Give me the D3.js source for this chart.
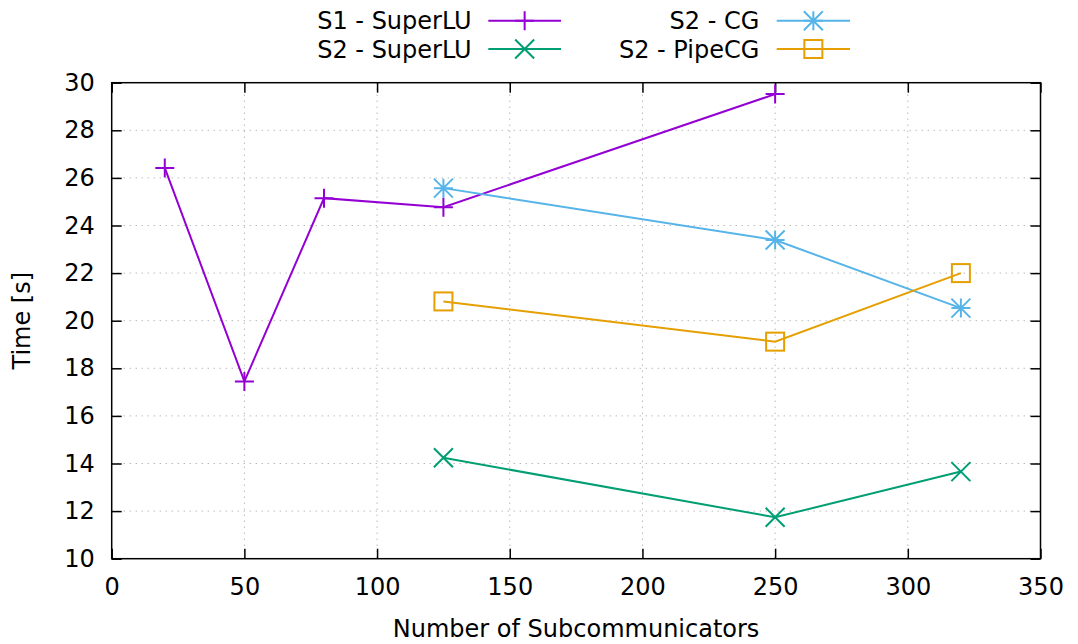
<!DOCTYPE html>
<html>
<head>
<meta charset="utf-8">
<script src="https://cdn.jsdelivr.net/npm/d3@7"></script>
<style>
  html, body { margin: 0; padding: 0; background: #fff; }
  svg { display: block; font-family: "DejaVu Sans", sans-serif; }
</style>
</head>
<body>
<svg id="chart" width="1078" height="644"></svg>
<script>
// ---- data ----
const s1SuperLU_x = [20, 50, 80, 125, 250];
const s1SuperLU_y = [26.42, 17.45, 25.15, 24.77, 29.52];
const s2SuperLU_x = [125, 250, 320];
const s2SuperLU_y = [14.24, 11.74, 13.66];
const s2CG_x = [125, 250, 320];
const s2CG_y = [25.57, 23.39, 20.53];
const s2PipeCG_x = [125, 250, 320];
const s2PipeCG_y = [20.81, 19.12, 22.0];

const seriesNames = ["S1 - SuperLU", "S2 - SuperLU", "S2 - CG", "S2 - PipeCG"];
const xTicks = [0, 50, 100, 150, 200, 250, 300, 350];
const yTicks = [10, 12, 14, 16, 18, 20, 22, 24, 26, 28, 30];
const xLabel = "Number of Subcommunicators";
const yLabel = "Time [s]";

const series = [
  { name: seriesNames[0], xs: s1SuperLU_x, ys: s1SuperLU_y, color: "#9400d3", marker: "plus" },
  { name: seriesNames[1], xs: s2SuperLU_x, ys: s2SuperLU_y, color: "#009e73", marker: "cross" },
  { name: seriesNames[2], xs: s2CG_x, ys: s2CG_y, color: "#56b4e9", marker: "star" },
  { name: seriesNames[3], xs: s2PipeCG_x, ys: s2PipeCG_y, color: "#e69f00", marker: "square" }
];

// ---- layout ----
const L = 111.7, R = 1040.5, T = 82.7, B = 558.7;
const svg = d3.select("#chart");
const x = d3.scaleLinear().domain([0, 350]).range([L, R]);
const y = d3.scaleLinear().domain([10, 30]).range([B, T]);

const fontSize = 24;

// grid
const grid = svg.append("g");
grid.selectAll("line.gx").data(xTicks.slice(1, -1)).join("line")
  .attr("x1", d => x(d)).attr("x2", d => x(d)).attr("y1", T).attr("y2", B)
  .attr("stroke", "#999").attr("stroke-width", 1).attr("stroke-dasharray", "1,5");
grid.selectAll("line.gy").data(yTicks.slice(1, -1)).join("line")
  .attr("x1", L).attr("x2", R).attr("y1", d => y(d)).attr("y2", d => y(d))
  .attr("stroke", "#999").attr("stroke-width", 1).attr("stroke-dasharray", "1,5");

// axes with mirrored ticks (inward)
const tickLen = 10;
const axB = svg.append("g").attr("transform", `translate(0,${B})`)
  .call(d3.axisBottom(x).tickValues(xTicks).tickSizeInner(-tickLen).tickSizeOuter(0).tickPadding(19).tickFormat(d3.format("d")));
const axT = svg.append("g").attr("transform", `translate(0,${T})`)
  .call(d3.axisTop(x).tickValues(xTicks).tickSizeInner(-tickLen).tickSizeOuter(0).tickFormat(""));
const axL = svg.append("g").attr("transform", `translate(${L},0)`)
  .call(d3.axisLeft(y).tickValues(yTicks).tickSizeInner(-tickLen).tickSizeOuter(0).tickPadding(17).tickFormat(d3.format("d")));
const axR = svg.append("g").attr("transform", `translate(${R},0)`)
  .call(d3.axisRight(y).tickValues(yTicks).tickSizeInner(-tickLen).tickSizeOuter(0).tickFormat(""));
[axB, axT, axL, axR].forEach(a => {
  a.select(".domain").remove();
  a.selectAll(".tick line").attr("stroke", "#000").attr("stroke-width", 1.5);
  a.selectAll(".tick text").attr("font-size", fontSize).attr("font-family", "DejaVu Sans").attr("fill", "#000");
});
axB.selectAll(".tick text").attr("dy", "0.71em");

// border
svg.append("rect").attr("x", L).attr("y", T).attr("width", R - L).attr("height", B - T)
  .attr("fill", "none").attr("stroke", "#000").attr("stroke-width", 1.5);

// axis titles
svg.append("text").attr("x", (L + R) / 2).attr("y", 637).attr("text-anchor", "middle")
  .attr("font-size", fontSize).text(xLabel);
svg.append("text").attr("transform", `translate(30,${(T + B) / 2}) rotate(-90)`).attr("text-anchor", "middle")
  .attr("font-size", fontSize).text(yLabel);

// markers
function drawMarker(g, type, cx, cy, color, s) {
  const sw = 2;
  if (type === "plus") {
    g.append("path").attr("d", `M${cx - s},${cy}H${cx + s}M${cx},${cy - s}V${cy + s}`)
      .attr("stroke", color).attr("stroke-width", sw).attr("fill", "none");
  } else if (type === "cross") {
    g.append("path").attr("d", `M${cx - s},${cy - s}L${cx + s},${cy + s}M${cx - s},${cy + s}L${cx + s},${cy - s}`)
      .attr("stroke", color).attr("stroke-width", sw).attr("fill", "none");
  } else if (type === "star") {
    g.append("path").attr("d", `M${cx - s},${cy}H${cx + s}M${cx},${cy - s}V${cy + s}M${cx - s},${cy - s}L${cx + s},${cy + s}M${cx - s},${cy + s}L${cx + s},${cy - s}`)
      .attr("stroke", color).attr("stroke-width", sw).attr("fill", "none");
  } else if (type === "square") {
    g.append("rect").attr("x", cx - s).attr("y", cy - s).attr("width", 2 * s).attr("height", 2 * s)
      .attr("stroke", color).attr("stroke-width", sw).attr("fill", "none");
  }
}

const line = d3.line().x(d => x(d[0])).y(d => y(d[1]));
const plot = svg.append("g");
series.forEach(s => {
  const pts = s.xs.map((v, i) => [v, s.ys[i]]);
  plot.append("path").attr("d", line(pts)).attr("fill", "none")
    .attr("stroke", s.color).attr("stroke-width", 2);
  pts.forEach(p => {
    const half = s.marker === "square" ? 9 : 9.5;
    drawMarker(plot, s.marker, x(p[0]), y(p[1]), s.color, half);
  });
});

// legend
const legendFont = 24;
const legendPos = [
  { tx: 471.7, lx1: 488.3, lx2: 561, ly: 20.7 },
  { tx: 471.7, lx1: 488.3, lx2: 561, ly: 49 },
  { tx: 759.3, lx1: 776.7, lx2: 850, ly: 20.7 },
  { tx: 759.3, lx1: 776.7, lx2: 850, ly: 49 }
];
const leg = svg.append("g");
series.forEach((s, i) => {
  const p = legendPos[i];
  leg.append("text").attr("x", p.tx).attr("y", p.ly).attr("dy", "0.36em")
    .attr("text-anchor", "end").attr("font-size", legendFont).text(s.name);
  leg.append("line").attr("x1", p.lx1).attr("x2", p.lx2).attr("y1", p.ly).attr("y2", p.ly)
    .attr("stroke", s.color).attr("stroke-width", 2);
  const half = s.marker === "square" ? 9 : 9.5;
  drawMarker(leg, s.marker, (p.lx1 + p.lx2) / 2, p.ly, s.color, half);
});
</script>
</body>
</html>
